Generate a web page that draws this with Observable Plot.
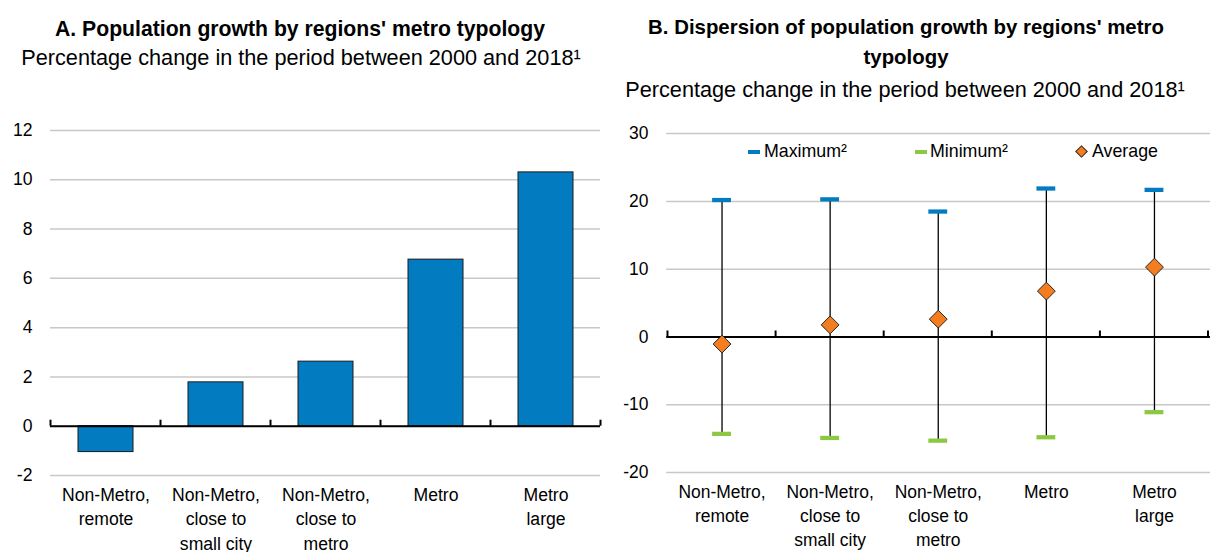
<!DOCTYPE html>
<html>
<head>
<meta charset="utf-8">
<script src="https://cdn.jsdelivr.net/npm/d3@7"></script>
<script src="https://cdn.jsdelivr.net/npm/@observablehq/plot@0.6"></script>
<style>
  html, body { margin: 0; padding: 0; background: #fff; }
  body { width: 1210px; height: 552px; position: relative; overflow: hidden; font-family: "Liberation Sans", Arial, sans-serif; color: #000; }
  .t { position: absolute; white-space: nowrap; line-height: 1; text-align: center; transform: translateX(-50%); }
  .title { font-weight: bold; }
  .sub { font-size: 21.7px; }
  .panel { position: absolute; top: 110px; }
  .leg { position: absolute; font-size: 17.8px; line-height: 1; white-space: nowrap; }
  .dash { position: absolute; width: 12px; height: 4px; }
  .dia { position: absolute; width: 7px; height: 7px; background: #F47D20; border: 1px solid #333; transform: rotate(45deg); }
</style>
</head>
<body>
<div class="t title" style="left:300px; top:17.6px; font-size:21.2px;">A. Population growth by regions' metro typology</div>
<div class="t sub" style="left:301px; top:47px;">Percentage change in the period between 2000 and 2018¹</div>

<div class="t title" style="left:906px; top:17px; font-size:20.4px;">B. Dispersion of population growth by regions' metro</div>
<div class="t title" style="left:906px; top:47px; font-size:20.4px;">typology</div>
<div class="t sub" style="left:905px; top:78.5px;">Percentage change in the period between 2000 and 2018¹</div>

<div id="panelA" class="panel" style="left:0px;"></div>
<div id="panelB" class="panel" style="left:605px;"></div>

<div class="dash" style="left:748px; top:150px; background:#037BC1;"></div>
<div class="leg" style="left:764px; top:143.3px;">Maximum²</div>
<div class="dash" style="left:915px; top:150px; background:#8CC841;"></div>
<div class="leg" style="left:930px; top:143.3px;">Minimum²</div>
<div class="dia" style="left:1077px; top:147px;"></div>
<div class="leg" style="left:1092px; top:143.3px;">Average</div>

<script>
// ---- data ----
const categories = ["Non-Metro, remote", "Non-Metro, close to small city", "Non-Metro, close to metro", "Metro", "Metro large"];
const tickLabels = ["Non-Metro,\nremote", "Non-Metro,\nclose to\nsmall city", "Non-Metro,\nclose to\nmetro", "Metro", "Metro\nlarge"];
const growth = [-1.05, 1.78, 2.62, 6.76, 10.3];
const maximum = [20.2, 20.3, 18.5, 21.9, 21.7];
const minimum = [-14.3, -14.9, -15.3, -14.8, -11.1];
const average = [-1.05, 1.78, 2.62, 6.76, 10.3];
const yTicksA = [-2, 0, 2, 4, 6, 8, 10, 12];
const yTicksB = [-20, -10, 0, 10, 20, 30];

const BLUE = "#037BC1", GREEN = "#8CC841", ORANGE = "#F47D20";
const FONT = '"Liberation Sans", Arial, sans-serif';

const rowsA = categories.map((c, i) => ({cat: c, value: growth[i]}));
const rowsB = categories.map((c, i) => ({cat: c, max: maximum[i], min: minimum[i], avg: average[i]}));
const fmtX = d => tickLabels[categories.indexOf(d)];
const fmtY = d => String(d);

function addBoundaryTicks(plot) {
  const xs = plot.scale("x"), ys = plot.scale("y");
  const off = (xs.step - xs.bandwidth) / 2;
  const bounds = categories.map(c => xs.apply(c) - off);
  bounds.push(xs.apply(categories[categories.length - 1]) + xs.bandwidth + off);
  const y0 = ys.apply(0);
  d3.select(plot).append("g")
    .selectAll("line").data(bounds).join("line")
    .attr("x1", d => d).attr("x2", d => d)
    .attr("y1", y0).attr("y2", y0 - 6)
    .attr("stroke", "#000").attr("stroke-width", 2);
}

const common = {
  style: {fontFamily: FONT, fontSize: "17.6px", color: "#000", background: "transparent", overflow: "visible"}
};

const plotA = Plot.plot({
  ...common,
  width: 605, height: 442,
  marginTop: 20, marginBottom: 77, marginLeft: 50, marginRight: 5,
  x: {domain: categories, paddingInner: 0.5, paddingOuter: 0.25},
  y: {domain: [-2, 12]},
  marks: [
    Plot.gridY(yTicksA, {stroke: "#c8c8c8", strokeOpacity: 1, strokeWidth: 1.5}),
    Plot.barY(rowsA, {x: "cat", y: "value", fill: BLUE, stroke: "#1a1a1a", strokeWidth: 1}),
    Plot.ruleY([0], {stroke: "#000", strokeWidth: 2}),
    Plot.axisY({ticks: yTicksA, tickSize: 0, tickPadding: 18, tickFormat: fmtY, label: null}),
    Plot.axisX({tickSize: 0, tickPadding: 8.3, tickFormat: fmtX, lineHeight: 1.38, label: null})
  ]
});
addBoundaryTicks(plotA);
document.getElementById("panelA").appendChild(plotA);

const plotB = Plot.plot({
  ...common,
  width: 610, height: 442,
  marginTop: 23.3, marginBottom: 77, marginLeft: 61.7, marginRight: 0,
  x: {domain: categories, paddingInner: 0.824, paddingOuter: 0.412},
  y: {domain: [-20, 30]},
  marks: [
    Plot.gridY(yTicksB, {stroke: "#c8c8c8", strokeOpacity: 1, strokeWidth: 1.5}),
    Plot.ruleY([0], {stroke: "#000", strokeWidth: 2}),
    Plot.ruleX(rowsB, {x: "cat", y1: "min", y2: "max", stroke: "#000", strokeWidth: 1.3}),
    Plot.tickY(rowsB, {x: "cat", y: "max", stroke: BLUE, strokeWidth: 4.3}),
    Plot.tickY(rowsB, {x: "cat", y: "min", stroke: GREEN, strokeWidth: 4.3}),
    Plot.dot(rowsB, {x: "cat", y: "avg", symbol: "diamond2", r: 8.1, fill: ORANGE, stroke: "#222", strokeWidth: 1}),
    Plot.axisY({ticks: yTicksB, tickSize: 0, tickPadding: 18.5, tickFormat: fmtY, label: null}),
    Plot.axisX({tickSize: 0, tickPadding: 8.3, tickFormat: fmtX, lineHeight: 1.38, label: null})
  ]
});
addBoundaryTicks(plotB);
document.getElementById("panelB").appendChild(plotB);
</script>
</body>
</html>
